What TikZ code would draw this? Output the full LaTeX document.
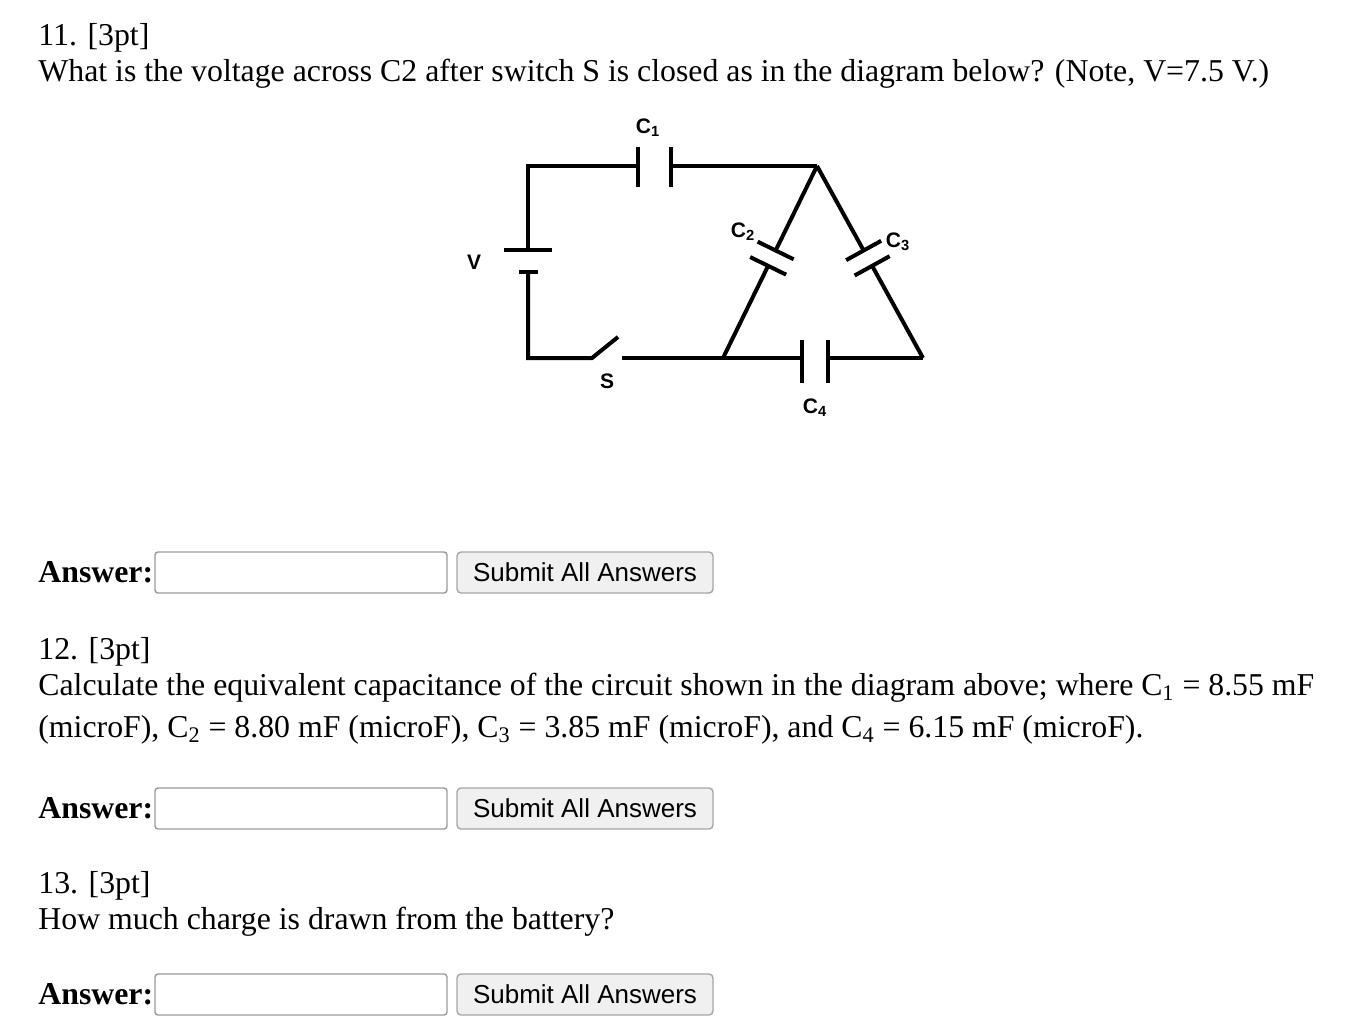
\documentclass[tikz,border=0pt]{standalone}
\usepackage{fontspec}
\setmainfont{Liberation Serif}
\setsansfont{Liberation Sans}
\usetikzlibrary{calc}
\begin{document}
\begin{tikzpicture}[x=0.5pt,y=-0.5pt,
  txt/.style={anchor=west,inner sep=0pt,font=\fontsize{15.9}{18}\selectfont},
  ans/.style={anchor=west,inner sep=0pt,font=\fontsize{15.9}{18}\selectfont\bfseries},
  inbox/.style={draw=gray!80,rounded corners=1.5pt,line width=0.7pt},
  btn/.style={draw=gray!70,fill=gray!12,rounded corners=2pt,line width=0.7pt},
  btntxt/.style={font=\sffamily\fontsize{13}{15}\selectfont,inner sep=0pt},
  w/.style={line width=2pt},
  lab/.style={font=\sffamily\bfseries\fontsize{10.5}{12}\selectfont,inner sep=0pt}]
\useasboundingbox (0,0) rectangle (1352,1034);
\node[txt] (t1) at (38,38) {11. [3pt]};
\node[txt] (t2) at (38,74) {What is the voltage across C2 after switch S is closed as in the diagram below? (Note, V=7.5 V.)};
% circuit
\coordinate (tl) at (528,166);
\coordinate (tr) at (817,166);
\coordinate (bl) at (528,358);
\coordinate (bm) at (723,358);
\coordinate (br) at (923,358);
\draw[w,line join=miter] (528,250) -- (tl) -- (638,166);
\draw[w] (671,166) -- (tr);
\draw[w] (638,147) -- (638,187);
\draw[w] (671,147) -- (671,187);
\draw[w] (504,250) -- (552,250);
\draw[w] (519,272) -- (538,272);
\draw[w] (528,272) -- (bl) -- (592,358) -- (618,337);
\draw[w] (622,358) -- (bm) -- (802,358);
\draw[w] (802,340) -- (802,383);
\draw[w] (828,340) -- (828,383);
\draw[w] (828,358) -- (br);
% C2 along tr -> bm
\path (tr) -- (bm) coordinate[pos=0.44] (c2a) coordinate[pos=0.52] (c2b);
\draw[w] (tr) -- (c2a);
\draw[w] (c2b) -- (bm);
\draw[w] ($(c2a)!10pt!90:(tr)$) -- ($(c2a)!10pt!-90:(tr)$);
\draw[w] ($(c2b)!10pt!90:(bm)$) -- ($(c2b)!10pt!-90:(bm)$);
% C3 along tr -> br
\path (tr) -- (br) coordinate[pos=0.44] (c3a) coordinate[pos=0.52] (c3b);
\draw[w] (tr) -- (c3a);
\draw[w] (c3b) -- (br);
\draw[w] ($(c3a)!10pt!90:(tr)$) -- ($(c3a)!10pt!-90:(tr)$);
\draw[w] ($(c3b)!10pt!90:(br)$) -- ($(c3b)!10pt!-90:(br)$);
\node[lab] (lc1) at (648,128) {C\textsubscript{1}};
\node[lab] (lc2) at (743,232) {C\textsubscript{2}};
\node[lab] (lc3) at (898,242) {C\textsubscript{3}};
\node[lab] (lc4) at (815,408) {C\textsubscript{4}};
\node[lab] (lv) at (474,262) {V};
\node[lab] (ls) at (607,381) {S};
% answer rows
\foreach \yy/\nm in {572/a, 808/b, 994/c}{
  \node[ans] (ans\nm) at (38,\yy) {Answer:};
  \draw[inbox] (155,\yy-20) rectangle (447,\yy+21);
  \draw[btn] (457,\yy-20) rectangle (713,\yy+21);
  \node[btntxt] (bt\nm) at (585,\yy) {Submit All Answers};
}
\node[txt] (t3) at (38,652) {12. [3pt]};
\node[txt] (t4) at (38,688) {Calculate the equivalent capacitance of the circuit shown in the diagram above; where C\textsubscript{1} = 8.55 mF};
\node[txt] (t5) at (38,730) {(microF), C\textsubscript{2} = 8.80 mF (microF), C\textsubscript{3} = 3.85 mF (microF), and C\textsubscript{4} = 6.15 mF (microF).};
\node[txt] (t6) at (38,886) {13. [3pt]};
\node[txt] (t7) at (38,922) {How much charge is drawn from the battery?};
\end{tikzpicture}
\end{document}
